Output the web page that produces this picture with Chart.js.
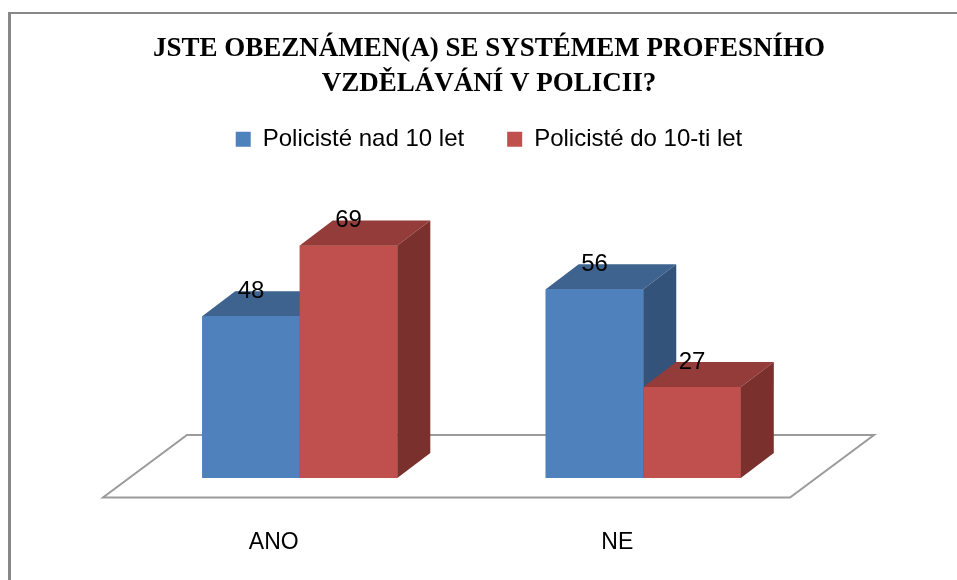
<!DOCTYPE html>
<html lang="cs">
<head>
<meta charset="UTF-8" />
<title>Jste obeznámen(a) se systémem profesního vzdělávání v policii?</title>
<script src="https://cdn.jsdelivr.net/npm/chart.js"></script>
<style>
  html, body { margin: 0; padding: 0; background: #fff; }
  #wrap { position: relative; width: 957px; height: 580px; overflow: hidden; }
  #frame {
    position: absolute; left: 8px; top: 12px; right: -10px; bottom: -10px;
    border-left: 3px solid #888; border-top: 2px solid #888; pointer-events: none;
  }
  canvas { position: absolute; left: 0; top: 0; }
</style>
</head>
<body>
<div id="wrap">
  <canvas id="chart" width="957" height="580"></canvas>
  <div id="frame"></div>
</div>
<script>
  const titleLines = ['JSTE OBEZNÁMEN(A) SE SYSTÉMEM PROFESNÍHO', 'VZDĚLÁVÁNÍ V POLICII?'];
  const categories = ['ANO', 'NE'];
  const seriesNames = ['Policisté nad 10 let', 'Policisté do 10-ti let'];
  const over10 = [48, 56];
  const under10 = [69, 27];

  // front / top / side shades per series
  const faces = [
    { front: '#4F81BD', top: '#3E638F', side: '#33537A' },
    { front: '#C0504D', top: '#933C39', side: '#7A312E' }
  ];
  const depth = { dx: 33, dy: -25 };
  const sans = '"Liberation Sans", Arial, sans-serif';

  // floor, bars, value labels and category labels in 3d look
  const bars3d = {
    id: 'bars3d',
    beforeDatasetsDraw(chart) {
      const { ctx, chartArea: a } = chart;
      const b = a.bottom;
      ctx.save();
      ctx.strokeStyle = '#9b9b9b';
      ctx.lineWidth = 2;
      ctx.beginPath();
      ctx.moveTo(a.left - 25, b + 19.5);
      ctx.lineTo(a.right - 25, b + 19.5);
      ctx.lineTo(a.right + 59, b - 43);
      ctx.lineTo(a.left + 59, b - 43);
      ctx.closePath();
      ctx.fillStyle = '#fff';
      ctx.fill();
      ctx.stroke();
      ctx.restore();
    },
    afterDatasetsDraw(chart) {
      const ctx = chart.ctx;
      ctx.save();
      const n = chart.data.labels.length;
      for (let i = 0; i < n; i++) {
        chart.data.datasets.forEach((ds, d) => {
          const el = chart.getDatasetMeta(d).data[i];
          const f = faces[d];
          const l = el.x - el.width / 2, r = el.x + el.width / 2;
          const t = el.y, bt = el.base;
          ctx.fillStyle = f.front;
          ctx.fillRect(l, t, r - l, bt - t);
          ctx.fillStyle = f.top;
          ctx.beginPath();
          ctx.moveTo(l, t); ctx.lineTo(r, t);
          ctx.lineTo(r + depth.dx, t + depth.dy); ctx.lineTo(l + depth.dx, t + depth.dy);
          ctx.closePath(); ctx.fill();
          ctx.fillStyle = f.side;
          ctx.beginPath();
          ctx.moveTo(r, t); ctx.lineTo(r + depth.dx, t + depth.dy);
          ctx.lineTo(r + depth.dx, bt + depth.dy); ctx.lineTo(r, bt);
          ctx.closePath(); ctx.fill();
        });
      }
      ctx.fillStyle = '#000';
      ctx.font = '24px ' + sans;
      ctx.textAlign = 'center';
      ctx.textBaseline = 'alphabetic';
      chart.data.datasets.forEach((ds, d) => {
        chart.getDatasetMeta(d).data.forEach((el, i) => {
          ctx.fillText(String(ds.data[i]), el.x, el.y - 18);
        });
      });
      // category labels sit on the front edge of the floor
      const xs = chart.scales.x;
      ctx.font = '23px ' + sans;
      ctx.textBaseline = 'middle';
      chart.data.labels.forEach((lab, i) => {
        ctx.fillText(lab, xs.getPixelForValue(i) - 26, chart.chartArea.bottom + 65);
      });
      ctx.restore();
    }
  };

  new Chart(document.getElementById('chart'), {
    type: 'bar',
    data: {
      labels: categories,
      datasets: [
        { label: seriesNames[0], data: over10, backgroundColor: faces[0].front, borderWidth: 0 },
        { label: seriesNames[1], data: under10, backgroundColor: faces[1].front, borderWidth: 0 }
      ]
    },
    options: {
      responsive: false,
      animation: false,
      events: [],
      categoryPercentage: 0.568,
      barPercentage: 1,
      layout: { padding: { left: 128, right: 107, top: 0, bottom: 102 } },
      plugins: {
        title: {
          display: true,
          text: titleLines,
          color: '#000',
          font: { family: '"Liberation Serif", "Times New Roman", serif', size: 27, weight: 'bold', lineHeight: 1.3 },
          padding: { top: 31, bottom: -17 }
        },
        legend: {
          display: true,
          labels: {
            color: '#000',
            font: { family: sans, size: 24 },
            boxWidth: 15,
            boxHeight: 15,
            padding: 43
          }
        },
        tooltip: { enabled: false }
      },
      scales: {
        x: { display: false },
        y: {
          position: 'right',
          min: 0,
          max: 94,
          grid: { display: false },
          border: { display: false },
          ticks: { display: false },
          afterFit(scale) { scale.width = 35; }
        }
      }
    },
    plugins: [bars3d]
  });
</script>
</body>
</html>
